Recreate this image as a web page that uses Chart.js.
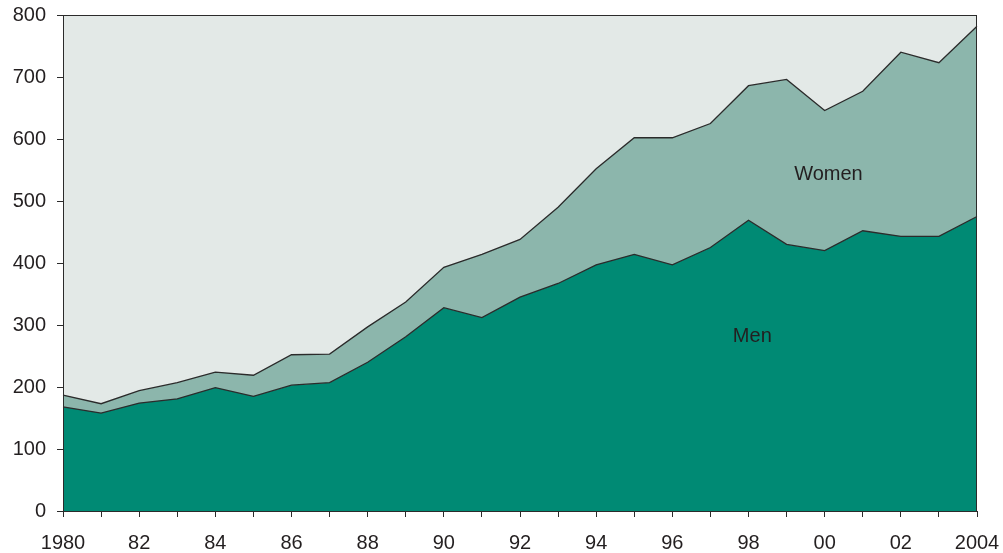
<!DOCTYPE html>
<html>
<head>
<meta charset="utf-8">
<script src="https://cdn.jsdelivr.net/npm/chart.js@4"></script>
<style>
  html, body { margin: 0; padding: 0; background: #fff; }
  #wrap { width: 1003px; height: 553px; }
</style>
</head>
<body>
<div id="wrap"><canvas id="myChart" width="1003" height="553"></canvas></div>
<script>
// Data
const years = ['1980','81','82','83','84','85','86','87','88','89','90','91','92',
               '93','94','95','96','97','98','99','00','01','02','03','2004'];
const men   = [168, 158, 174, 181, 199, 185, 203, 207, 240, 281, 328, 312, 345,
               367, 397, 414, 397, 425, 469, 430, 420, 452, 443, 443, 475];
const total = [187, 173, 194, 207, 224, 219, 252, 253, 297, 337, 393, 414, 438,
               490, 552, 602, 602, 625, 686, 696, 646, 677, 740, 723, 782];
const women = total.map((t, i) => t - men[i]);
const yTicks = [0, 100, 200, 300, 400, 500, 600, 700, 800];

// in-chart labels: [text, x index, y value]
const areaLabels = [['Women', 20.1, 542], ['Men', 18.1, 281]];

const FONT = "'Liberation Sans', Arial, sans-serif";
const INK = '#231f20';

// plot background + frame + area labels
const plotDecor = {
    id: 'plotDecor',
    beforeDatasetsDraw(chart) {
        const a = chart.chartArea;
        const ctx = chart.ctx;
        ctx.save();
        ctx.fillStyle = '#e3e9e7';
        ctx.fillRect(a.left, a.top, a.right - a.left, a.bottom - a.top);
        ctx.restore();
    },
    afterDatasetsDraw(chart) {
        const a = chart.chartArea;
        const ctx = chart.ctx;
        const xs = chart.scales.x, ys = chart.scales.y;
        ctx.save();
        ctx.strokeStyle = '#2b2b2b';
        ctx.lineWidth = 1;
        ctx.strokeRect(a.left + 0.5, a.top + 0.5, a.right - a.left - 1, a.bottom - a.top);
        ctx.fillStyle = INK;
        ctx.font = '20px ' + FONT;
        ctx.textAlign = 'center';
        ctx.textBaseline = 'middle';
        areaLabels.forEach(l => {
            ctx.fillText(l[0], xs.getPixelForValue(l[1]), ys.getPixelForValue(l[2]));
        });
        ctx.restore();
    }
};

const ctx = document.getElementById('myChart').getContext('2d');
new Chart(ctx, {
    type: 'line',
    data: {
        labels: years,
        datasets: [{
            label: 'Men',
            data: men,
            fill: 'origin',
            backgroundColor: '#008a74',
            borderColor: '#2b2b2b',
            borderWidth: 1.3,
            pointRadius: 0,
            tension: 0
        }, {
            label: 'Women',
            data: women,
            fill: '-1',
            backgroundColor: '#8cb6ac',
            borderColor: '#2b2b2b',
            borderWidth: 1.3,
            pointRadius: 0,
            tension: 0
        }]
    },
    options: {
        responsive: false,
        animation: false,
        layout: { padding: { left: 0, right: 26, top: 15, bottom: 0 } },
        plugins: {
            legend: { display: false },
            tooltip: { enabled: false }
        },
        scales: {
            x: {
                type: 'category',
                offset: false,
                grid: { drawOnChartArea: false, drawTicks: true, tickLength: 6, color: '#2b2b2b' },
                border: { display: false },
                ticks: {
                    autoSkip: false,
                    maxRotation: 0,
                    padding: 14,
                    color: INK,
                    font: { family: FONT, size: 20 },
                    callback: function(val, i) { return i % 2 === 0 ? years[i] : ''; }
                },
                afterFit(scale) {
                    scale.height = 42;
                    scale.paddingLeft = 0;
                    scale.paddingRight = 0;
                }
            },
            y: {
                stacked: true,
                min: 0,
                max: 800,
                grid: { drawOnChartArea: false, drawTicks: true, tickLength: 6, color: '#2b2b2b' },
                border: { display: false },
                ticks: {
                    padding: 11,
                    color: INK,
                    font: { family: FONT, size: 20 },
                    callback: v => yTicks.includes(v) ? v : null,
                    stepSize: 100
                },
                afterFit(scale) {
                    scale.width = 63;
                    scale.paddingTop = 0;
                    scale.paddingBottom = 0;
                }
            }
        }
    },
    plugins: [plotDecor]
});
</script>
</body>
</html>
